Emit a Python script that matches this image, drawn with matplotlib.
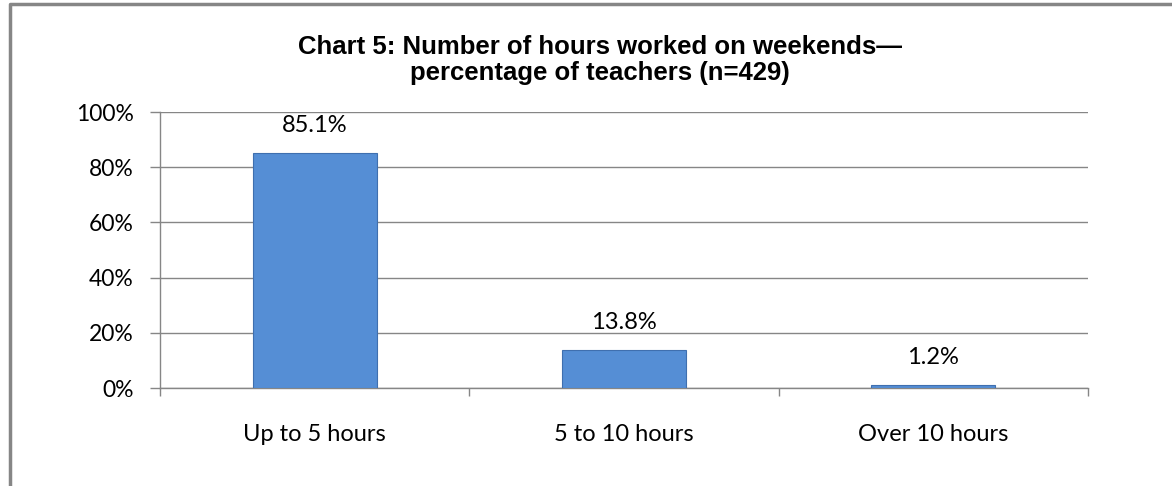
import matplotlib.pyplot as plt
from matplotlib.lines import Line2D

categories = ["Up to 5 hours", "5 to 10 hours", "Over 10 hours"]
values = [85.1, 13.8, 1.2]
yticks = [0, 20, 40, 60, 80, 100]

W, H = 1172, 486
fig = plt.figure(figsize=(W / 100, H / 100), dpi=100)

# outer chart frame: only left and top edges are visible in the crop
fig.lines.append(Line2D([10 / W, 10 / W, 1], [0, 1 - 4 / H, 1 - 4 / H],
                        transform=fig.transFigure, color="#868686", linewidth=2.5))

ax = fig.add_axes([160 / W, 1 - 388 / H, 928 / W, 276 / H])
x = list(range(len(categories)))
ax.bar(x, values, width=0.4, color="#558ED5", edgecolor="#3F6FAF", linewidth=0.8, zorder=3)
ax.set_xlim(-0.5, 2.5)
ax.set_ylim(0, 100)
ax.set_yticks(yticks)
ax.set_yticklabels([f"{v}%" for v in yticks], fontsize=16.5, family="Lato")
ax.yaxis.grid(True, color="#868686", linewidth=1, zorder=0)
ax.set_xticks([-0.5, 0.5, 1.5, 2.5])
ax.set_xticklabels([])
ax.set_xticks(x, minor=True)
ax.set_xticklabels(categories, minor=True, fontsize=17, family="Lato")
ax.tick_params(axis="x", which="minor", length=0, pad=26)
ax.tick_params(axis="x", which="major", length=6, color="#868686", width=1)
ax.tick_params(axis="y", length=7, color="#868686", width=1, pad=12)
for s in ["top", "right"]:
    ax.spines[s].set_visible(False)
for s in ["left", "bottom"]:
    ax.spines[s].set_color("#868686")
    ax.spines[s].set_linewidth(1)

for xi, v in zip(x, values):
    ax.annotate(f"{v}%", (xi, v), xytext=(0, 12), textcoords="offset points",
                ha="center", va="bottom", fontsize=17, family="Lato")

fig.text(600 / W, 1 - 60 / H,
         "Chart 5: Number of hours worked on weekends\u2014\npercentage of teachers (n=429)",
         ha="center", va="center", fontsize=18.5, fontweight="bold",
         family="Liberation Sans", linespacing=1.15)

fig.savefig("out.png", dpi=100)
